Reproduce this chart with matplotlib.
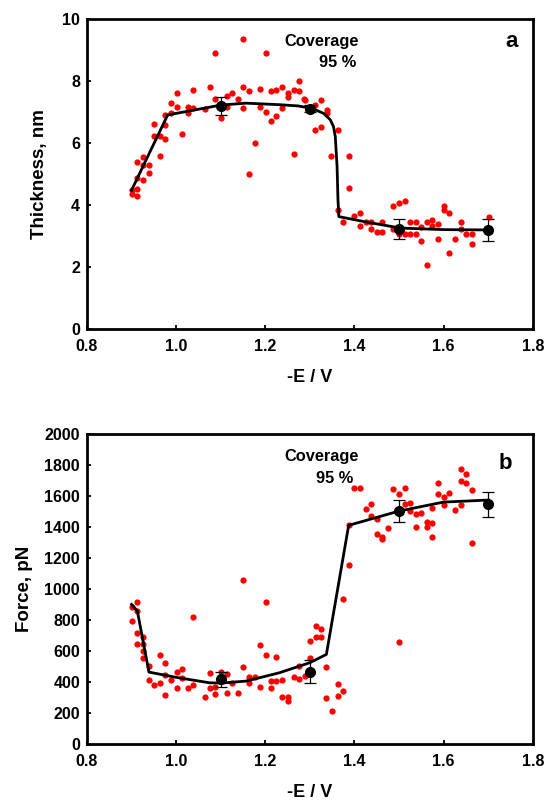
import numpy as np
import matplotlib
matplotlib.use("Agg")
import matplotlib.pyplot as plt

plt.rcParams['font.family'] = ['Liberation Sans', 'DejaVu Sans']
plt.rcParams['font.weight'] = 'bold'

# --- panel a: thickness scatter ---
thick_x = [0.900, 0.900, 0.913, 0.913, 0.913, 0.913, 0.925, 0.925, 0.925, 0.939,
           0.939, 0.951, 0.951, 0.963, 0.963, 0.976, 0.976, 0.976, 0.989, 0.989,
           1.001, 1.001, 1.013, 1.026, 1.026, 1.038, 1.038, 1.064, 1.076, 1.088,
           1.088, 1.101, 1.113, 1.113, 1.126, 1.138, 1.151, 1.151, 1.151, 1.163,
           1.163, 1.176, 1.188, 1.188, 1.201, 1.201, 1.213, 1.213, 1.225, 1.225,
           1.238, 1.238, 1.251, 1.251, 1.264, 1.264, 1.276, 1.276, 1.288, 1.286,
           1.311, 1.326, 1.338, 1.338, 1.311, 1.326, 1.362, 1.348, 1.387, 1.387,
           1.362, 1.374, 1.399, 1.412, 1.412, 1.425, 1.437, 1.437, 1.450, 1.462,
           1.462, 1.487, 1.500, 1.513, 1.487, 1.500, 1.513, 1.525, 1.525, 1.538,
           1.538, 1.550, 1.550, 1.562, 1.562, 1.575, 1.575, 1.588, 1.588, 1.600,
           1.600, 1.613, 1.613, 1.626, 1.638, 1.638, 1.650, 1.663, 1.663, 1.701]
thick_y = [4.47, 4.34, 4.50, 4.27, 5.37, 4.86, 5.55, 5.30, 4.79, 5.30,
           5.04, 6.61, 6.21, 6.21, 5.57, 6.58, 6.12, 6.90, 7.30, 6.96,
           7.60, 7.17, 6.28, 7.15, 6.96, 7.71, 7.11, 7.09, 7.79, 8.91,
           7.41, 6.80, 7.15, 7.52, 7.62, 7.41, 9.34, 7.79, 7.11, 5.01,
           7.67, 6.00, 7.73, 7.17, 8.91, 7.00, 6.72, 7.67, 6.85, 7.71,
           7.79, 7.11, 7.49, 7.60, 5.65, 7.71, 8.00, 7.67, 7.39, 7.42,
           7.23, 7.39, 7.07, 6.96, 6.40, 6.51, 6.42, 5.57, 5.57, 4.54,
           3.82, 3.45, 3.64, 3.73, 3.32, 3.45, 3.21, 3.45, 3.13, 3.13,
           3.45, 3.96, 4.05, 4.13, 3.21, 3.05, 3.05, 3.45, 3.05, 3.45,
           3.05, 3.27, 2.82, 3.45, 2.07, 3.51, 3.32, 3.37, 2.89, 3.96,
           3.82, 3.75, 2.46, 2.91, 3.45, 3.21, 3.05, 3.05, 2.75, 3.62]

thick_mean_x = [1.1, 1.3, 1.5, 1.7]
thick_mean_y = [7.19, 7.10, 3.23, 3.18]
thick_err = [0.30, 0.12, 0.32, 0.36]

thick_fit_x = [0.900, 0.981, 1.101, 1.157, 1.232, 1.274, 1.305, 1.331, 1.346,
               1.353, 1.357, 1.361, 1.363, 1.365, 1.425, 1.503, 1.600, 1.700]
thick_fit_y = [4.47, 6.90, 7.22, 7.28, 7.23, 7.19, 7.11, 6.95, 6.74,
               6.52, 6.20, 5.24, 4.17, 3.62, 3.45, 3.25, 3.20, 3.19]

# --- panel b: force scatter ---
force_x = [0.900, 0.900, 0.913, 0.913, 0.913, 0.913, 0.925, 0.925, 0.925, 0.925,
           0.939, 0.939, 0.951, 0.963, 0.963, 0.976, 0.976, 0.976, 0.988, 1.001,
           1.001, 1.013, 1.013, 1.026, 1.038, 1.038, 1.064, 1.076, 1.076, 1.088,
           1.088, 1.101, 1.113, 1.113, 1.126, 1.138, 1.151, 1.151, 1.163, 1.163,
           1.176, 1.188, 1.188, 1.201, 1.201, 1.213, 1.213, 1.225, 1.225, 1.238,
           1.238, 1.251, 1.251, 1.264, 1.276, 1.276, 1.288, 1.300, 1.300, 1.313,
           1.313, 1.325, 1.325, 1.337, 1.337, 1.350, 1.362, 1.362, 1.374, 1.374,
           1.387, 1.387, 1.400, 1.412, 1.425, 1.437, 1.437, 1.450, 1.450, 1.462,
           1.462, 1.475, 1.487, 1.500, 1.513, 1.500, 1.513, 1.525, 1.525, 1.538,
           1.538, 1.550, 1.562, 1.562, 1.575, 1.575, 1.575, 1.588, 1.588, 1.600,
           1.600, 1.613, 1.625, 1.638, 1.638, 1.638, 1.650, 1.650, 1.663, 1.663]
force_y = [886, 794, 918, 860, 718, 647, 692, 647, 600, 553,
           503, 413, 381, 574, 391, 520, 447, 314, 413, 464,
           361, 486, 426, 361, 821, 378, 301, 460, 361, 322,
           370, 464, 331, 449, 396, 331, 1058, 499, 434, 391,
           434, 641, 370, 918, 576, 406, 361, 559, 406, 413,
           303, 303, 277, 434, 421, 503, 439, 662, 557, 761,
           688, 740, 690, 497, 297, 213, 385, 310, 342, 933,
           1153, 1411, 1654, 1654, 1518, 1546, 1471, 1449, 1353, 1338,
           1320, 1396, 1643, 1611, 1654, 658, 1546, 1557, 1503, 1482,
           1400, 1488, 1432, 1400, 1424, 1335, 1525, 1686, 1611, 1596,
           1540, 1622, 1507, 1772, 1697, 1540, 1740, 1682, 1639, 1295]

force_mean_x = [1.1, 1.3, 1.5, 1.7]
force_mean_y = [417, 467, 1503, 1546]
force_err = [50, 72, 69, 80]

force_fit_x = [0.900, 0.913, 0.939, 1.000, 1.075, 1.100, 1.157, 1.232, 1.300,
               1.337, 1.387, 1.500, 1.600, 1.700]
force_fit_y = [901, 858, 464, 430, 395, 393, 406, 460, 525,
               578, 1411, 1503, 1561, 1574]


def draw_panel(ax, sx, sy, mx, my, err, fx, fy, ylim, yticks, ylabel, ypad,
               letter, letter_pos, pct_pos):
    ax.plot(sx, sy, 'o', color='#ff0000', markersize=4.5, markeredgewidth=0,
            zorder=2)
    ax.plot(fx, fy, '-', color='black', linewidth=2.0, zorder=3)
    ax.errorbar(mx, my, yerr=err, fmt='o', color='black', markersize=7,
                ecolor='black', elinewidth=0.9, capsize=4, capthick=0.9,
                zorder=4)
    ax.set_xlim(0.8, 1.8)
    ax.set_ylim(*ylim)
    ax.set_xticks(np.arange(0.8, 1.81, 0.2))
    ax.set_xticklabels(['%.1f' % v for v in np.arange(0.8, 1.81, 0.2)])
    ax.set_yticks(yticks)
    ax.tick_params(direction='in', length=3, width=1.3, labelsize=11.5)
    ax.tick_params(axis='x', pad=7)
    ax.tick_params(axis='y', pad=5)
    for lab in ax.get_xticklabels() + ax.get_yticklabels():
        lab.set_fontweight('bold')
    for sp in ax.spines.values():
        sp.set_linewidth(2.0)
    ax.set_xlabel('-E / V', fontsize=13, fontweight='bold', labelpad=11)
    ax.set_ylabel(ylabel, fontsize=13.5, fontweight='bold', labelpad=ypad)
    ax.text(0.527, 0.926, 'Coverage', transform=ax.transAxes, ha='center',
            va='center', fontsize=11.8, fontweight='bold')
    ax.text(pct_pos[0], pct_pos[1], '95 %', transform=ax.transAxes,
            ha='center', va='center', fontsize=11.8, fontweight='bold')
    ax.text(letter_pos[0], letter_pos[1], letter, transform=ax.transAxes,
            ha='right', va='center', fontsize=16, fontweight='bold')


fig = plt.figure(figsize=(5.47, 8.02), dpi=100)
ax1 = fig.add_axes([0.159, 0.590, 0.815, 0.3865])
ax2 = fig.add_axes([0.159, 0.0723, 0.815, 0.3865])

draw_panel(ax1, thick_x, thick_y, thick_mean_x, thick_mean_y, thick_err,
           thick_fit_x, thick_fit_y, (0, 10), np.arange(0, 11, 2),
           'Thickness, nm', 10, 'a', (0.966, 0.926), (0.562, 0.859))
draw_panel(ax2, force_x, force_y, force_mean_x, force_mean_y, force_err,
           force_fit_x, force_fit_y, (0, 2000), np.arange(0, 2001, 200),
           'Force, pN', 8, 'b', (0.953, 0.906), (0.556, 0.855))

fig.savefig('out.png', dpi=100)
